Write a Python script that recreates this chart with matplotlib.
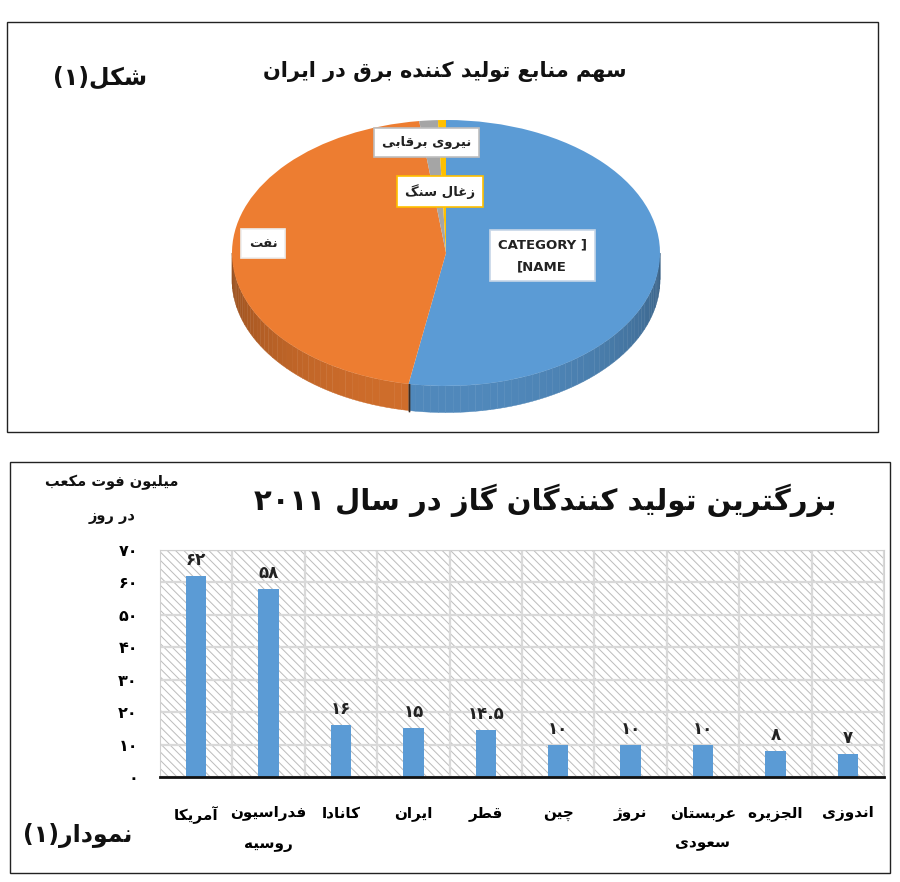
import re

import matplotlib
matplotlib.use('Agg')
import matplotlib.pyplot as plt
from matplotlib.patches import Rectangle, Polygon
from matplotlib.colors import to_rgb
import numpy as np

plt.rcParams['font.family'] = ['DejaVu Sans']
plt.rcParams['hatch.linewidth'] = 0.7

############################## data ##############################
pie_title = 'سهم منابع تولید کننده برق در ایران'
pie_tag = 'شکل(۱)'
pie_names = ['CATEGORY ]\n[NAME', 'نفت', 'نیروی برقابی', 'زغال سنگ']
pie_values = [52.8, 45.2, 1.4, 0.6]
pie_colors = ['#5b9bd5', '#ed7d31', '#a5a5a5', '#ffc000']

bar_title = 'بزرگترین تولید کنندگان گاز در سال ۲۰۱۱'
bar_unit = 'میلیون فوت مکعب\nدر روز'
bar_tag = 'نمودار(۱)'
countries = ['آمریکا', 'فدراسیون\nروسیه', 'کانادا', 'ایران', 'قطر',
             'چین', 'نروژ', 'عربستان\nسعودی', 'الجزیره', 'اندوزی']
production = [62, 58, 16, 15, 14.5, 10, 10, 10, 8, 7]
y_ticks = [0, 10, 20, 30, 40, 50, 60, 70]

############################## persian text helpers ##############################
# presentation forms: isolated, final, (initial, medial)
FORMS = {
    'آ': (0xFE81, 0xFE82), 'ا': (0xFE8D, 0xFE8E),
    'ب': (0xFE8F, 0xFE90, 0xFE91, 0xFE92), 'ت': (0xFE95, 0xFE96, 0xFE97, 0xFE98),
    'ج': (0xFE9D, 0xFE9E, 0xFE9F, 0xFEA0), 'چ': (0xFB7A, 0xFB7B, 0xFB7C, 0xFB7D),
    'د': (0xFEA9, 0xFEAA), 'ر': (0xFEAD, 0xFEAE), 'ز': (0xFEAF, 0xFEB0),
    'ژ': (0xFB8A, 0xFB8B),
    'س': (0xFEB1, 0xFEB2, 0xFEB3, 0xFEB4), 'ش': (0xFEB5, 0xFEB6, 0xFEB7, 0xFEB8),
    'ط': (0xFEC1, 0xFEC2, 0xFEC3, 0xFEC4), 'ع': (0xFEC9, 0xFECA, 0xFECB, 0xFECC),
    'غ': (0xFECD, 0xFECE, 0xFECF, 0xFED0), 'ف': (0xFED1, 0xFED2, 0xFED3, 0xFED4),
    'ق': (0xFED5, 0xFED6, 0xFED7, 0xFED8), 'ك': (0xFED9, 0xFEDA, 0xFEDB, 0xFEDC),
    'ک': (0xFB8E, 0xFB8F, 0xFB90, 0xFB91), 'گ': (0xFB92, 0xFB93, 0xFB94, 0xFB95),
    'ل': (0xFEDD, 0xFEDE, 0xFEDF, 0xFEE0), 'م': (0xFEE1, 0xFEE2, 0xFEE3, 0xFEE4),
    'ن': (0xFEE5, 0xFEE6, 0xFEE7, 0xFEE8), 'ه': (0xFEE9, 0xFEEA, 0xFEEB, 0xFEEC),
    'و': (0xFEED, 0xFEEE),
    'ي': (0xFEF1, 0xFEF2, 0xFEF3, 0xFEF4), 'ی': (0xFBFC, 0xFBFD, 0xFBFE, 0xFBFF),
}
FA_DIGITS = str.maketrans('0123456789', '۰۱۲۳۴۵۶۷۸۹')


def fa_num(v):
    return ('%g' % v).translate(FA_DIGITS)


def shape_line(s):
    "joins the letters and puts the line in visual (left to right) order"
    out = []
    for i, ch in enumerate(s):
        f = FORMS.get(ch)
        if f is None:
            out.append(ch)
            continue
        prev = s[i - 1] if i > 0 else ''
        nxt = s[i + 1] if i + 1 < len(s) else ''
        jp = prev in FORMS and len(FORMS[prev]) == 4
        jn = len(f) == 4 and nxt in FORMS
        idx = 3 if (jp and jn) else 1 if jp else 2 if jn else 0
        out.append(chr(f[idx]))
    vis = ''.join(out)[::-1]
    vis = vis.translate(str.maketrans('()', ')('))
    # numbers stay left to right
    vis = re.sub(r'[۰-۹][۰-۹.]*', lambda m: m.group(0)[::-1], vis)
    return vis


def fa(text):
    return '\n'.join(shape_line(l) for l in text.split('\n'))


def darker(c, k):
    return tuple(v * k for v in to_rgb(c))

############################## figure ##############################
W, H = 900, 882
fig = plt.figure(figsize=(W / 100, H / 100), dpi=100)


def box(x0, y0, x1, y1):
    "pixel box (top-left origin) -> figure fraction rect"
    return [x0 / W, 1 - y1 / H, (x1 - x0) / W, (y1 - y0) / H]


def ftext(x, y, s, **kw):
    fig.text(x / W, 1 - y / H, s, ha='center', va='center', color='#111111', **kw)


for x0, y0, x1, y1 in [(7, 22, 878, 432), (10, 462, 890, 873)]:
    fig.add_artist(Rectangle((x0 / W, 1 - y1 / H), (x1 - x0) / W, (y1 - y0) / H,
                             transform=fig.transFigure, fill=False, ec='#222222', lw=1))

# ---------- pie ----------
ax1 = fig.add_axes(box(178.5, 93.4, 713.5, 432.5))
wedges, _ = ax1.pie(pie_values, colors=pie_colors, startangle=90, counterclock=False,
                    wedgeprops=dict(linewidth=0))
ax1.set_aspect('auto')
ax1.set_xlim(-1.25, 1.25)
ax1.set_ylim(-1.35, 1.2)
depth = 0.2
for w, c in zip(wedges, pie_colors):
    for lo, hi in [(-180, 0), (180, 360)]:
        a, b = max(w.theta1, lo), min(w.theta2, hi)
        if b <= a:
            continue
        edges = np.arange(a, b, 2.0).tolist() + [b]
        for t0, t1 in zip(edges[:-1], edges[1:]):
            t = np.radians(np.linspace(t0, t1, 4))
            xs = np.concatenate([np.cos(t), np.cos(t[::-1])])
            ys = np.concatenate([np.sin(t), np.sin(t[::-1]) - depth])
            k = 0.62 + 0.26 * (-np.sin(np.radians((t0 + t1) / 2)))
            ax1.add_patch(Polygon(np.column_stack([xs, ys]), closed=True,
                                  fc=darker(c, k), ec=darker(c, k), lw=0.3, zorder=0.5))
    for th in (w.theta1, w.theta2):
        if np.sin(np.radians(th)) < 0:
            ax1.plot([np.cos(np.radians(th))] * 2,
                     [np.sin(np.radians(th)), np.sin(np.radians(th)) - depth],
                     color='#3a2a20', lw=1, zorder=0.6)

label_pos = [(0.45, -0.02), (-0.855, 0.07), (-0.09, 0.83), (-0.03, 0.46)]
label_edges = ['#c6d6e8', '#eeeeee', '#bfbfbf', '#ffc000']
for name, (lx, ly), ec in zip(pie_names, label_pos, label_edges):
    txt = name if name.isascii() else fa(name)
    ax1.text(lx, ly, txt, ha='center', va='center', fontsize=9.5, fontweight='bold',
             color='#222222', linespacing=1.9, zorder=3,
             bbox=dict(boxstyle='square,pad=0.6', fc='white', ec=ec, lw=1.2))

ftext(445, 72, fa(pie_title), fontsize=15, fontweight='bold')
ftext(100, 78, fa(pie_tag), fontsize=17, fontweight='bold')

# ---------- bars ----------
ax2 = fig.add_axes(box(160, 550, 884, 777))
x = np.arange(len(countries))
ax2.add_patch(Rectangle((0, 0), 1, 1, transform=ax2.transAxes, fc='white', ec='#bcbcbc',
                        lw=0, hatch='\\' * 4, zorder=0.1))
bars = ax2.bar(x, production, width=0.28, color='#5b9bd5', zorder=2)
ax2.bar_label(bars, labels=[fa_num(v) for v in production], padding=5,
              fontsize=12, fontweight='bold', color='#222222')
ax2.set_xlim(-0.5, len(countries) - 0.5)
ax2.set_ylim(0, 70)
ax2.set_yticks(y_ticks, [fa_num(v) for v in y_ticks], fontsize=11.5, fontweight='bold')
ax2.set_xticks(x, [fa(c) for c in countries], fontsize=11, fontweight='bold')
for lab in ax2.get_xticklabels():
    lab.set_linespacing(2.2)
ax2.set_xticks(x + 0.5, minor=True)
ax2.tick_params(axis='both', which='both', length=0)
ax2.tick_params(axis='y', pad=16)
ax2.tick_params(axis='x', pad=21)
ax2.set_axisbelow(True)
ax2.yaxis.grid(True, color='#d9d9d9', lw=1.6)
ax2.xaxis.grid(True, which='minor', color='#d9d9d9', lw=1.6)
ax2.xaxis.grid(False, which='major')
for side in ['top', 'left', 'right']:
    ax2.spines[side].set_color('#d0d0d0')
ax2.spines['bottom'].set_color('#111111')
ax2.spines['bottom'].set_linewidth(2)

ftext(545, 500, fa(bar_title), fontsize=21, fontweight='bold')
for yy, line in zip([482, 516], bar_unit.split('\n')):
    ftext(112, yy, fa(line), fontsize=10.5, fontweight='bold')
ftext(78, 835, fa(bar_tag), fontsize=17, fontweight='bold')

fig.savefig('out.png', dpi=100)
